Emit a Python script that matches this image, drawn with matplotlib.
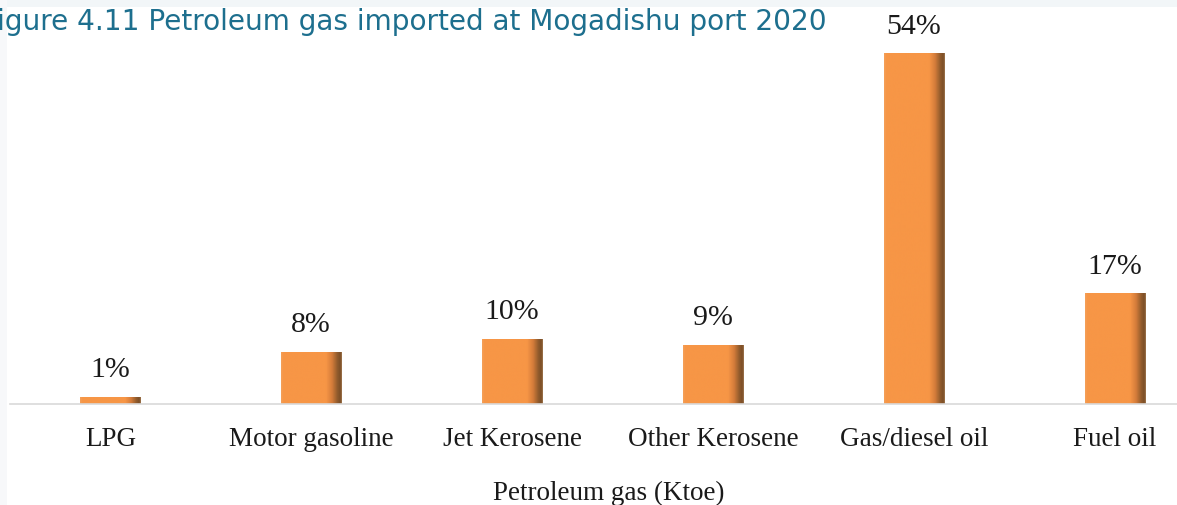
import numpy as np
import matplotlib
matplotlib.use("Agg")
import matplotlib.pyplot as plt
from matplotlib.colors import LinearSegmentedColormap
from matplotlib.patches import Rectangle

categories = ["LPG", "Motor gasoline", "Jet Kerosene", "Other Kerosene", "Gas/diesel oil", "Fuel oil"]
shares = [1, 8, 10, 9, 54, 17]
value_labels = ["1%", "8%", "10%", "9%", "54%", "17%"]
title = "Figure 4.11 Petroleum gas imported at Mogadishu port 2020"
xlabel = "Petroleum gas (Ktoe)"

W, H = 1177, 506
fig = plt.figure(figsize=(W / 100, H / 100), dpi=100)
fig.patch.set_facecolor("white")

# faint page-band artefacts
fig.add_artist(Rectangle((0, 1 - 8 / H), 1, 8 / H, transform=fig.transFigure,
                         facecolor="#f2f6f8", edgecolor="none", zorder=0))
fig.add_artist(Rectangle((0, 0), 7 / W, 1, transform=fig.transFigure,
                         facecolor="#f7f8fa", edgecolor="none", zorder=0))

ax = fig.add_axes([10 / W, 101 / H, 1205 / W, 389 / H])
ax.set_facecolor("none")
x = np.arange(len(categories))

bar_w = 60 / 200.8
bars = ax.bar(x, shares, width=bar_w, color="none", edgecolor="none", zorder=2)

cmap = LinearSegmentedColormap.from_list(
    "shade",
    [(0.0, "#f4a05a"), (0.04, "#f79646"), (0.74, "#f79646"), (0.84, "#d47c3a"),
     (0.93, "#8e5a2c"), (0.975, "#7c4e27"), (1.0, "#a0774f")])
grad = np.linspace(0, 1, 256).reshape(1, -1)
for b in bars:
    x0, y0 = b.get_x(), b.get_y()
    w, h = b.get_width(), b.get_height()
    ax.imshow(grad, cmap=cmap, extent=(x0, x0 + w, y0, y0 + h),
              aspect="auto", zorder=2, interpolation="bilinear")

for xi, v, lab in zip(x, shares, value_labels):
    ax.annotate(lab, (xi, v), xytext=(0, 11), textcoords="offset points",
                ha="center", va="bottom", fontsize=21.5, family="Liberation Serif",
                color="#1a1a1a")

for s in ["top", "right", "left"]:
    ax.spines[s].set_visible(False)
ax.spines["bottom"].set_color("#d9d9d9")
ax.spines["bottom"].set_linewidth(1.2)
ax.set_yticks([])
ax.set_xticks(x)
ax.set_xticklabels(categories, fontsize=19.5, family="Liberation Serif", color="#1a1a1a")
ax.tick_params(axis="x", length=0, pad=16)

fig.text(609 / W, 1 - 493 / H, xlabel, ha="center", va="center", fontsize=19.5,
         family="Liberation Serif", color="#1a1a1a")

# title with leading "F" clipped off the left edge
tsize = 20.2
renderer = fig.canvas.get_renderer()
probe = fig.text(0, 0, "F", fontsize=tsize, family="DejaVu Sans")
fw = probe.get_window_extent(renderer).width
probe.remove()
fig.text(-(fw + 1) / W, 1 - 22 / H, title, ha="left", va="center", fontsize=tsize,
         family="DejaVu Sans", color="#1d6f8e")

ax.set_xlim(-0.5, len(categories) - 0.5)
ax.set_ylim(0, 60)
fig.savefig("out.png", dpi=100, facecolor="white")
